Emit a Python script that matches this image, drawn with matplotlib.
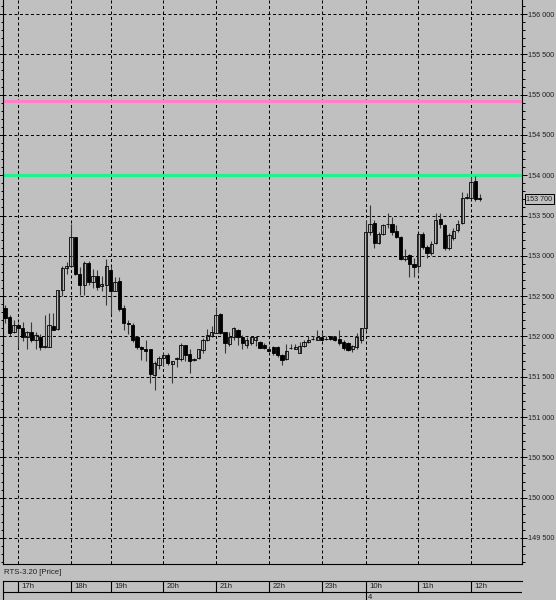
import matplotlib
matplotlib.use("Agg")
import matplotlib.pyplot as plt
from matplotlib.ticker import FuncFormatter, MultipleLocator, FixedLocator

# 5-min candles, 16:45 .. 12:10 (evening session + next morning)
opens = [152350, 152240, 152050, 152140, 152110, 151990, 152050, 151950, 151990, 151870,
         151870, 152130, 152090, 152580, 152850, 152870, 153230, 152770, 152640, 152910,
         152680, 152750, 152630, 152640, 152820, 152570, 152690, 152350, 152170, 152140,
         151990, 151870, 151850, 151840, 151520, 151640, 151730, 151770, 151660, 151720,
         151720, 151890, 151780, 151710, 151730, 151830, 151950, 152000, 152040, 152280,
         152050, 151910, 151990, 152080, 151990, 151900, 151920, 151960, 151930, 151890,
         151850, 151870, 151870, 151770, 151720, 151860, 151840, 151800, 151880, 151930,
         151970, 151960, 151990, 151970, 152000, 151990, 151970, 151930, 151920, 151840,
         151870, 151960, 152100, 153300, 153410, 153160, 153270, 153390, 153400, 153310,
         153230, 152960, 153010, 152900, 152870, 153270, 153110, 153030, 153160, 153460,
         153380, 153100, 153220, 153320, 153410, 153720, 153720, 153930, 153720]
highs = [152390, 152260, 152200, 152170, 152180, 152070, 152180, 152050, 152030, 152260,
         152290, 152290, 152580, 152870, 152920, 153400, 153230, 152860, 152930, 152930,
         152840, 152830, 152750, 152960, 152860, 152740, 152740, 152390, 152200, 152170,
         152010, 151880, 151950, 151850, 151700, 151760, 151790, 151790, 151700, 151750,
         151920, 151900, 151840, 151730, 151850, 151980, 152090, 152130, 152360, 152290,
         152050, 152050, 152120, 152090, 152020, 151990, 152000, 152000, 151940, 151920,
         151880, 151880, 151880, 151780, 151910, 151910, 151910, 151930, 151950, 152000,
         152010, 152080, 152050, 152010, 152010, 152000, 152080, 151950, 151930, 151900,
         152040, 152110, 153450, 153630, 153440, 153300, 153400, 153530, 153480, 153380,
         153250, 153080, 153020, 152970, 153280, 153300, 153130, 153190, 153530, 153530,
         153400, 153280, 153350, 153440, 153790, 153780, 153980, 153990, 153770]
lows = [152170, 152000, 152040, 151870, 151940, 151850, 151930, 151850, 151830, 151860,
        151870, 152080, 152080, 152500, 152780, 152860, 152760, 152510, 152520, 152640,
        152600, 152580, 152570, 152390, 152280, 152560, 152320, 152080, 152030, 151930,
        151850, 151710, 151700, 151420, 151330, 151600, 151630, 151640, 151420, 151620,
        151690, 151690, 151550, 151700, 151720, 151800, 151940, 151990, 152040, 152030,
        151790, 151880, 151960, 151900, 151840, 151860, 151900, 151880, 151860, 151840,
        151820, 151770, 151740, 151650, 151710, 151840, 151840, 151790, 151870, 151920,
        151950, 151950, 151950, 151950, 151960, 151940, 151900, 151830, 151820, 151810,
        151850, 151920, 152080, 153260, 153100, 153150, 153260, 153340, 153260, 153220,
        152950, 152930, 152740, 152740, 152790, 153090, 152970, 153010, 153150, 153350,
        153070, 153070, 153200, 153300, 153400, 153700, 153700, 153680, 153680]
closes = [152230, 152040, 152140, 152110, 151990, 152060, 151950, 152020, 151870, 151880,
          152140, 152080, 152580, 152850, 152870, 153230, 152770, 152640, 152910, 152680,
          152750, 152610, 152650, 152870, 152570, 152670, 152340, 152170, 152150, 151950,
          151870, 151840, 151820, 151530, 151670, 151730, 151770, 151670, 151700, 151730,
          151900, 151770, 151700, 151720, 151840, 151960, 152020, 152050, 152260, 152040,
          151920, 151990, 152100, 151990, 151920, 151960, 151990, 151990, 151860, 151860,
          151820, 151790, 151770, 151710, 151820, 151860, 151870, 151880, 151930, 151960,
          151970, 151990, 151960, 151970, 151970, 151950, 151920, 151860, 151830, 151880,
          151990, 152100, 153300, 153390, 153160, 153270, 153380, 153400, 153290, 153230,
          152960, 153000, 152900, 152860, 153270, 153110, 153040, 153150, 153450, 153390,
          153100, 153260, 153310, 153400, 153720, 153730, 153920, 153710, 153700]

hour_pos = [3, 15, 24, 36, 48, 60, 72, 82, 94, 106]
hour_labels = ["17h", "18h", "19h", "20h", "21h", "22h", "23h", "10h", "11h", "12h"]
day_pos = [82]
day_labels = ["4"]

level_green = 154000
level_pink = 154920
last_price = 153700
title = "RTS-3.20 [Price]"

bg = "#c0c0c0"
plt.rcParams["font.family"] = ["Liberation Sans", "DejaVu Sans"]
fs = 5.6
fs_y = 5.2

W, H = 556, 600
fig = plt.figure(figsize=(W / 100, H / 100), dpi=100, facecolor=bg)
ax = fig.add_axes([3 / W, 36 / H, 519 / W, 564 / H], facecolor=bg)

xlim = (-0.48, 117.6)
ax.set_xlim(*xlim)
ax.set_ylim(149177, 156174)

# grid
ax.yaxis.set_major_locator(MultipleLocator(500))
ax.yaxis.set_minor_locator(MultipleLocator(100))
ax.xaxis.set_major_locator(FixedLocator(hour_pos))
ax.grid(True, which="major", color="black", lw=0.72, ls=(0, (3, 2.5)), zorder=1)
ax.set_axisbelow(True)

# levels
ax.axhline(level_pink, color="#ff80c8", lw=2.3, zorder=2)
ax.axhline(level_green, color="#20f090", lw=2.3, zorder=2)

# candles
xs = range(len(opens))
ax.vlines(xs, lows, highs, color="#383838", lw=0.8, zorder=3)
for x, o, c in zip(xs, opens, closes):
    up = c >= o
    ax.bar(x, abs(c - o), bottom=min(o, c), width=0.74,
           facecolor="none" if up else "black", edgecolor="black",
           lw=0.6, zorder=4)

# axes look
ax.spines["top"].set_visible(False)
for s in ["left", "right", "bottom"]:
    ax.spines[s].set_color("black")
    ax.spines[s].set_linewidth(0.8)

ax.yaxis.set_major_formatter(FuncFormatter(lambda v, _: f"{int(v):,}".replace(",", " ")))
ax.tick_params(axis="y", which="both", left=True, right=True, labelleft=False,
               labelright=True, direction="out", colors="black", labelcolor="#202020",
               labelsize=fs_y, pad=1.0, width=0.7)
ax.tick_params(axis="y", which="major", length=3.6)
ax.tick_params(axis="y", which="minor", length=1.8)
ax.tick_params(axis="x", which="major", bottom=True, top=False, labelbottom=False,
               direction="in", length=2.2, width=0.7)

ax.annotate(f"{last_price:,}".replace(",", " "), xy=(1, last_price),
            xycoords=("axes fraction", "data"), xytext=(3.2, 0), textcoords="offset points",
            va="center", ha="left", fontsize=fs_y, color="#202020",
            bbox=dict(boxstyle="square,pad=0.2", fc=bg, ec="black", lw=0.7))

fig.text(4 / W, 1 - 573 / H, title, va="center", ha="left", fontsize=fs, color="#202020")

# time strip under the chart
sx = fig.add_axes([3 / W, 0, 519 / W, 19 / H], facecolor=bg)
sx.set_xlim(*xlim)
sx.set_ylim(0, 1)
sx.set_xticks([])
sx.set_yticks([])
sx.spines["right"].set_visible(False)
sx.spines["bottom"].set_visible(False)
for s in ["left", "top"]:
    sx.spines[s].set_linewidth(0.8)
row = 8 / 19
sx.axhline(row, color="black", lw=0.8)
for p, lab in zip(hour_pos, hour_labels):
    sx.axvline(p, row, 1, color="black", lw=0.8)
    sx.annotate(lab, xy=(p, 0.71), xytext=(2.5, 0), textcoords="offset points",
                va="center", ha="left", fontsize=fs, color="#202020")
for p, lab in zip(day_pos, day_labels):
    sx.axvline(p, 0, row, color="black", lw=0.8)
    sx.annotate(lab, xy=(p, 0.14), xytext=(1.5, 0), textcoords="offset points",
                va="center", ha="left", fontsize=fs, color="#202020")

fig.savefig("out.png", dpi=100, facecolor=bg)
